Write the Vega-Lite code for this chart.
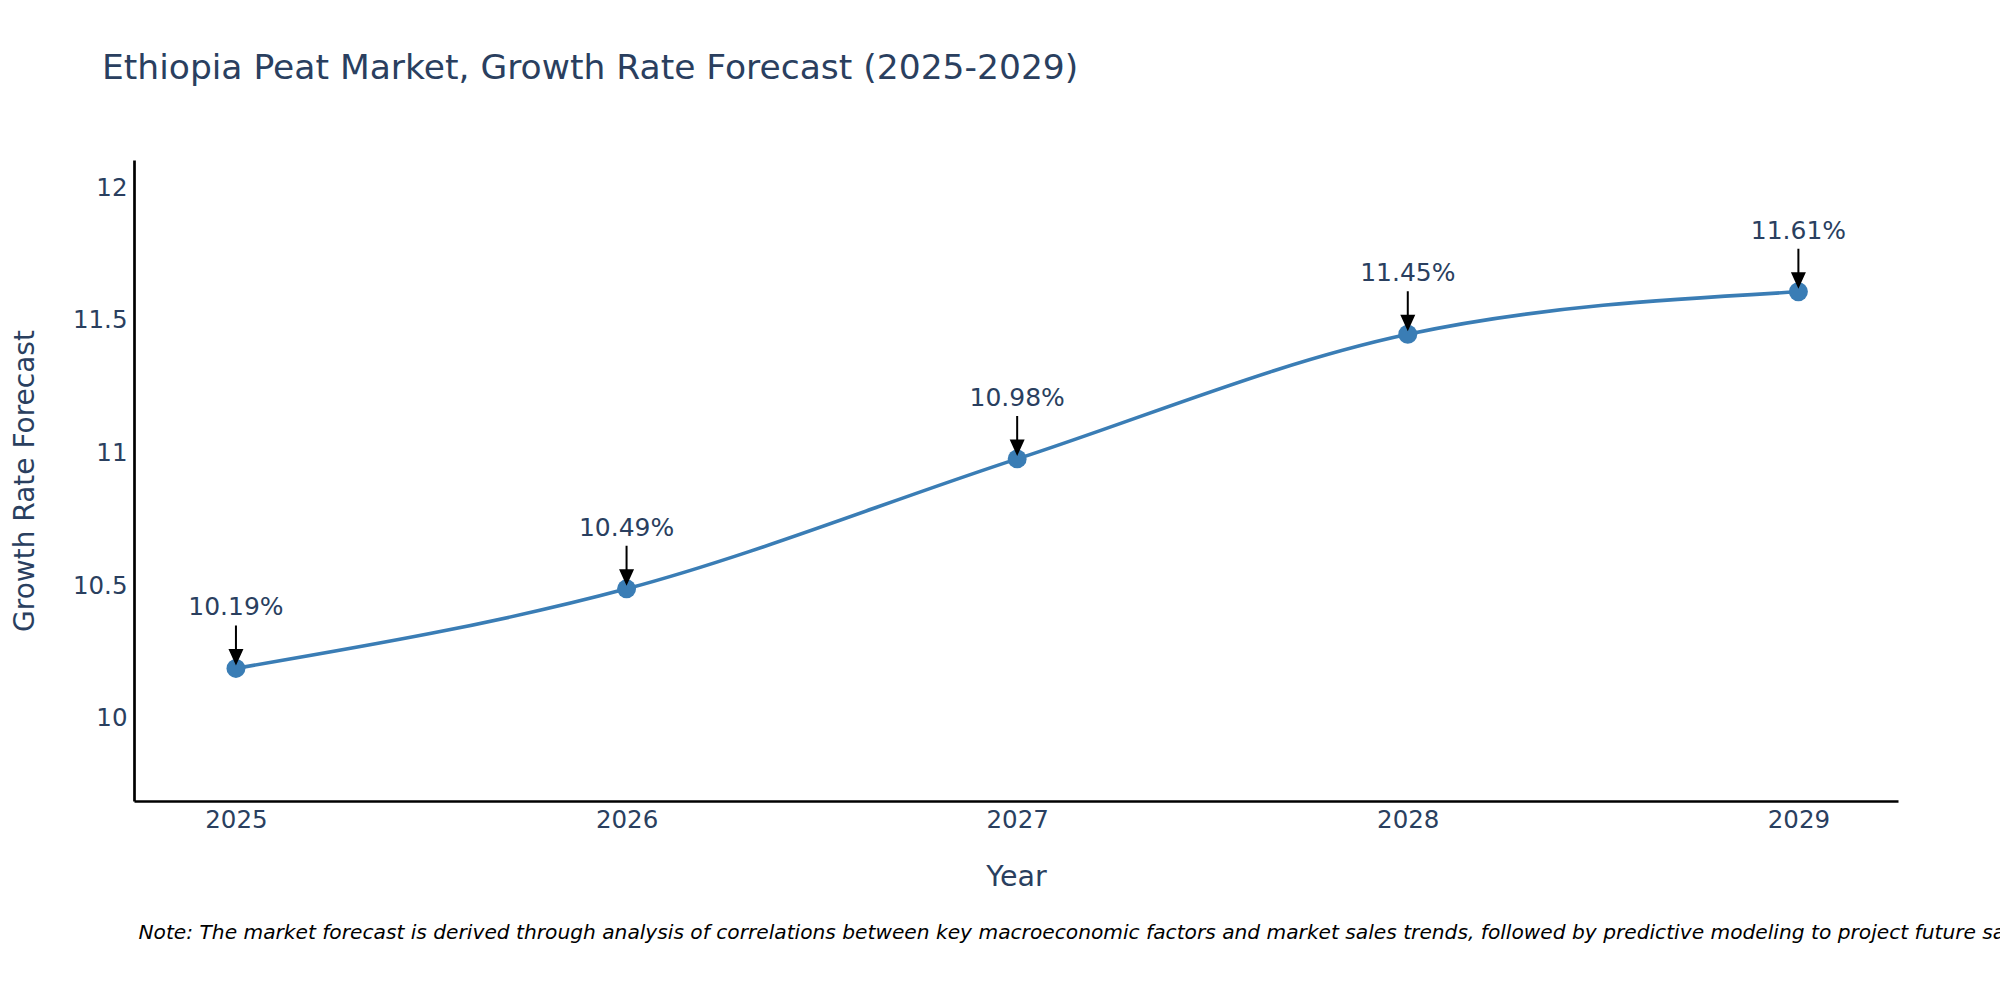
{
  "$schema": "https://vega.github.io/schema/vega-lite/v6.json",
  "width": 1764,
  "height": 641,
  "autosize": {"type": "none"},
  "padding": {"left": 134, "top": 160, "right": 102, "bottom": 199},
  "background": "white",
  "title": {
    "text": "Ethiopia Peat Market, Growth Rate Forecast (2025-2029)",
    "anchor": "start",
    "frame": "group",
    "fontSize": 34.5,
    "fontWeight": "normal",
    "color": "#2a3f5f",
    "baseline": "alphabetic",
    "offset": 47,
    "dx": -32
  },
  "config": {"font": "DejaVu Sans", "view": {"stroke": null}},
  "data": {
    "values": [
      {"Year": 2025, "Growth": 10.19},
      {"Year": 2026, "Growth": 10.49},
      {"Year": 2027, "Growth": 10.98},
      {"Year": 2028, "Growth": 11.45},
      {"Year": 2029, "Growth": 11.61}
    ]
  },
  "encoding": {
    "y": {
      "field": "Growth",
      "type": "quantitative",
      "scale": {"domain": [9.69, 12.107], "nice": false, "zero": false},
      "axis": {
        "title": "Growth Rate Forecast",
        "values": [10, 10.5, 11, 11.5, 12],
        "format": "~g",
        "grid": false,
        "ticks": false,
        "domainColor": "black",
        "domainWidth": 2.7,
        "labelFontSize": 24.5,
        "labelColor": "#2a3f5f",
        "labelPadding": 7,
        "titleFontSize": 28,
        "titleFontWeight": "normal",
        "titleColor": "#2a3f5f",
        "titleBaseline": "alphabetic",
        "titleAngle": -90,
        "titleAlign": "center",
        "titleX": -101,
        "titleY": 320.5
      }
    }
  },
  "layer": [
    {
      "encoding": {
        "x": {
          "field": "Year",
          "type": "quantitative",
          "scale": {"domain": [2024.739, 2029.255], "nice": false, "zero": false},
          "axis": {
            "title": "Year",
            "values": [2025, 2026, 2027, 2028, 2029],
            "format": "d",
            "grid": false,
            "ticks": false,
            "domainColor": "black",
            "domainWidth": 2.7,
            "labelFontSize": 24.5,
            "labelColor": "#2a3f5f",
            "labelPadding": 7,
            "titleFontSize": 28.5,
            "titleFontWeight": "normal",
            "titleColor": "#2a3f5f",
            "titleBaseline": "alphabetic",
            "titleX": 882,
            "titleY": 84
          }
        }
      },
      "layer": [
        {"mark": {"type": "line", "interpolate": "monotone", "color": "#3a7db5", "strokeWidth": 3.6}},
        {"mark": {"type": "point", "filled": true, "size": 360, "opacity": 1, "color": "#3a7db5"}},
        {
          "mark": {
            "type": "point",
            "shape": "M-0.1,-4.3L0.1,-4.3L0.1,-1.8L-0.1,-1.8Z M-0.75,-1.95L0.75,-1.95L0,-0.3Z",
            "size": 400,
            "filled": true,
            "opacity": 1,
            "color": "black"
          }
        }
      ]
    },
    {
      "mark": {
        "type": "text",
        "dy": -53,
        "fontSize": 25,
        "color": "#2a3f5f",
        "baseline": "alphabetic",
        "align": "center",
        "text": {"expr": "format(datum.Growth, '.2f') + '%'"}
      },
      "encoding": {
        "x": {
          "field": "Year",
          "type": "quantitative",
          "scale": {"domain": [2024.739, 2029.255], "nice": false, "zero": false},
          "axis": {
            "orient": "bottom",
            "domain": false,
            "ticks": false,
            "labels": false,
            "grid": false,
            "title": "Note: The market forecast is derived through analysis of correlations between key macroeconomic factors and market sales trends, followed by predictive modeling to project future sales.",
            "titleFontStyle": "italic",
            "titleFontWeight": "normal",
            "titleFontSize": 20.2,
            "titleColor": "black",
            "titleAnchor": "start",
            "titleAlign": "left",
            "titleBaseline": "alphabetic",
            "titleLimit": 5000,
            "titleX": 4,
            "titleY": 137
          }
        }
      }
    }
  ],
  "resolve": {"scale": {"x": "independent"}, "axis": {"x": "independent"}}
}
